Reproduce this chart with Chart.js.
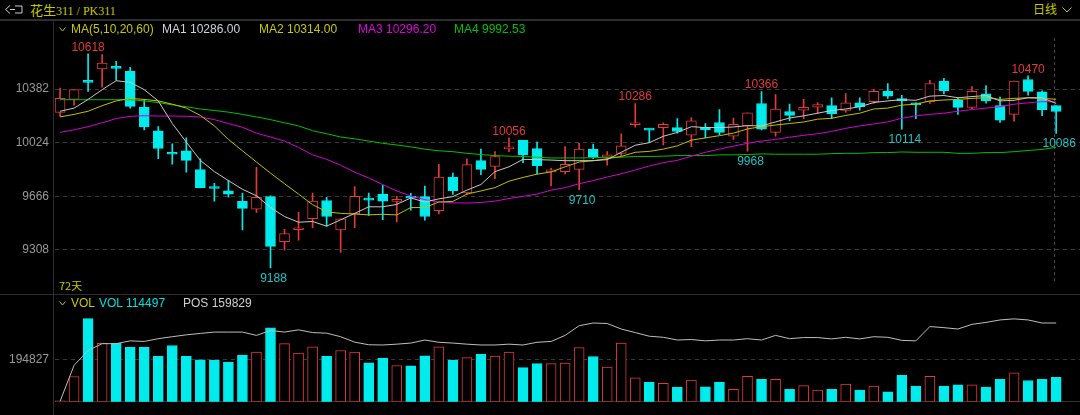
<!DOCTYPE html>
<html lang="zh-CN">
<head>
<meta charset="UTF-8">
<title>花生311 / PK311 日线</title>
<script src="https://cdn.jsdelivr.net/npm/chart.js"></script>
<style>
    html, body { margin: 0; padding: 0; background: #000; }
    #wrap { position: relative; width: 1080px; height: 415px; overflow: hidden; background: #000;
            font-family: "Liberation Sans", Arial, sans-serif; font-size: 12px; }
    .t { position: absolute; white-space: nowrap; line-height: 14px; z-index: 2; }
    .sep { position: absolute; background: #2e2e2e; z-index: 1; }
    canvas { position: absolute; left: 0; }
    svg { position: absolute; z-index: 2; }
</style>
</head>
<body>
<div id="wrap">
    <canvas id="priceChart" width="1080" height="273" style="top:21px"></canvas>
    <canvas id="volChart" width="1080" height="119" style="top:296px"></canvas>

    <div class="sep" style="left:0;top:19px;width:1080px;height:2px"></div>
    <div class="sep" style="left:0;top:294px;width:1080px;height:1px"></div>
    <div class="sep" style="left:53px;top:21px;width:1px;height:394px"></div>

    <!-- header -->
    <svg style="left:5px;top:5px" width="18" height="9"><polyline points="5,0.5 0.5,4.5 5,8.5" stroke="#cfcfcf" fill="none"/><polyline points="5,4.5 10,4.5" stroke="#cfcfcf"/><polyline points="10,1 17,1 17,8 10,8" stroke="#cfcfcf" fill="none"/></svg>
    <div class="t" style="left:30px;top:3px;color:#c8c800;font-size:13px"><span style="font-family:'Noto Sans CJK SC'">花生</span><span style="font-family:'Liberation Serif',serif;font-size:12px">311 / PK311</span></div>
    <div class="t" style="left:1033px;top:2px;color:#c8c800;font-family:'Noto Sans CJK SC';font-size:12px">日线</div>
    <svg style="left:1062px;top:7px" width="10" height="6"><polyline points="0.5,0.5 5,5 9.5,0.5" stroke="#c8c800" fill="none"/></svg>

    <!-- MA legend -->
    <svg style="left:59px;top:27px" width="7" height="5"><polyline points="0.5,0.5 3.5,4 6.5,0.5" stroke="#c8c800" fill="none"/></svg>
    <div class="t" style="left:71px;top:22px;color:#c8c800">MA(5,10,20,60)</div>
    <div class="t" style="left:162px;top:22px;color:#cfd3d8">MA1 10286.00</div>
    <div class="t" style="left:259px;top:22px;color:#c8c800">MA2 10314.00</div>
    <div class="t" style="left:358px;top:22px;color:#e000e0">MA3 10296.20</div>
    <div class="t" style="left:454px;top:22px;color:#00c000">MA4 9992.53</div>
    <div class="t" style="left:59px;top:278px;color:#c8c800;font-family:'Noto Sans CJK SC';font-size:11px">72天</div>

    <!-- VOL legend -->
    <svg style="left:59px;top:301px" width="7" height="5"><polyline points="0.5,0.5 3.5,4 6.5,0.5" stroke="#c8c800" fill="none"/></svg>
    <div class="t" style="left:71px;top:296px;color:#c8c800">VOL</div>
    <div class="t" style="left:99px;top:296px;color:#00e0e0">VOL 114497</div>
    <div class="t" style="left:183px;top:296px;color:#cfcfcf">POS 159829</div>
</div>

<script>
    // daily candles, oldest first
    const opens = [10226, 10313, 10431, 10517, 10524, 10502, 10260, 10104, 9951, 9970,
        9844, 9722, 9702, 9632, 9580, 9664, 9364, 9443, 9516, 9638,
        9441, 9548, 9645, 9681, 9632, 9657, 9664, 9570, 9795, 9688,
        9904, 9866, 9983, 10039, 9985, 9829, 9831, 9846, 9981, 9927,
        9953, 10144, 10112, 10125, 10125, 10075, 10127, 10159, 10067, 10136,
        10286, 10093, 10232, 10242, 10262, 10271, 10239, 10290, 10298, 10369,
        10309, 10290, 10298, 10435, 10307, 10260, 10350, 10271, 10213, 10446, 10363, 10271];
    const highs = [10388, 10378, 10618, 10613, 10567, 10528, 10313, 10131, 10017, 10056,
        9917, 9752, 9773, 9688, 9860, 9670, 9445, 9559, 9688, 9660,
        9516, 9731, 9688, 9741, 9666, 9686, 9735, 9880, 9821, 9917,
        9981, 9964, 10056, 10039, 10028, 9853, 9998, 10020, 10014, 9964,
        10084, 10286, 10114, 10157, 10185, 10191, 10152, 10245, 10189, 10223,
        10366, 10345, 10281, 10313, 10292, 10324, 10352, 10324, 10378, 10419,
        10341, 10290, 10440, 10453, 10324, 10399, 10406, 10329, 10435, 10470, 10371, 10271];
    const lows = [10200, 10275, 10367, 10395, 10442, 10255, 10110, 9917, 9880, 9827,
        9722, 9634, 9660, 9441, 9559, 9188, 9306, 9374, 9456, 9467,
        9291, 9456, 9538, 9510, 9495, 9574, 9506, 9548, 9679, 9677,
        9810, 9784, 9964, 9891, 9816, 9735, 9816, 9710, 9917, 9874,
        9938, 10127, 10024, 10009, 10088, 9998, 10056, 10078, 10046, 9968,
        10110, 10067, 10170, 10185, 10217, 10185, 10228, 10242, 10286, 10320,
        10114, 10185, 10286, 10350, 10213, 10249, 10288, 10159, 10168, 10341, 10204, 10086];
    const closes = [10320, 10378, 10427, 10556, 10520, 10266, 10129, 9985, 9947, 9906,
        9724, 9718, 9681, 9585, 9660, 9332, 9418, 9447, 9634, 9531,
        9516, 9666, 9641, 9634, 9636, 9653, 9531, 9795, 9703, 9878,
        9846, 9932, 9987, 9943, 9870, 9833, 9879, 9981, 9927, 9943,
        10003, 10148, 10108, 10146, 10099, 10170, 10110, 10093, 10146, 10223,
        10114, 10249, 10206, 10260, 10279, 10217, 10290, 10264, 10367, 10335,
        10305, 10277, 10419, 10371, 10260, 10367, 10303, 10174, 10435, 10367, 10245, 10232];

    // moving averages as drawn (MA5, MA10, MA20, MA60)
    const ma5 = [10234, 10255, 10313, 10378, 10438, 10427, 10378, 10303, 10152, 10028,
        9906, 9831, 9771, 9713, 9670, 9591, 9531, 9493, 9498, 9467,
        9509, 9552, 9596, 9596, 9612, 9655, 9628, 9649, 9664, 9707,
        9745, 9831, 9863, 9913, 9911, 9908, 9904, 9904, 9904, 9911,
        9960, 10007, 10024, 10067, 10093, 10131, 10125, 10125, 10129, 10138,
        10136, 10163, 10189, 10203, 10221, 10239, 10249, 10264, 10292, 10303,
        10311, 10307, 10335, 10339, 10324, 10332, 10339, 10303, 10307, 10324, 10324, 10286];
    const ma10 = [10196, 10213, 10234, 10271, 10303, 10320, 10313, 10303, 10281, 10255,
        10206, 10136, 10046, 9970, 9895, 9821, 9750, 9681, 9610, 9563,
        9552, 9548, 9542, 9546, 9542, 9591, 9591, 9628, 9632, 9681,
        9702, 9724, 9767, 9792, 9814, 9829, 9863, 9895, 9904, 9917,
        9932, 9960, 9966, 9981, 10003, 10041, 10056, 10071, 10088, 10116,
        10131, 10142, 10152, 10162, 10181, 10187, 10206, 10221, 10249, 10255,
        10275, 10281, 10303, 10309, 10313, 10320, 10324, 10313, 10320, 10324, 10320, 10314];
    const ma20 = [10093, 10110, 10131, 10157, 10185, 10200, 10204, 10202, 10202, 10200,
        10196, 10178, 10152, 10127, 10088, 10062, 10035, 9992, 9943, 9913,
        9874, 9827, 9789, 9744, 9702, 9668, 9644, 9628, 9623, 9621,
        9625, 9634, 9651, 9666, 9681, 9707, 9724, 9750, 9771, 9795,
        9816, 9842, 9868, 9891, 9906, 9934, 9960, 9981, 10001, 10020,
        10035, 10046, 10061, 10073, 10084, 10099, 10120, 10136, 10149, 10163,
        10187, 10204, 10213, 10221, 10234, 10245, 10255, 10264, 10281, 10290, 10298, 10296];
    const ma60 = [10311, 10311, 10311, 10311, 10311, 10311, 10303, 10292, 10277, 10264,
        10249, 10239, 10228, 10213, 10196, 10178, 10157, 10136, 10104, 10084,
        10062, 10050, 10035, 10020, 10009, 9996, 9981, 9970, 9964, 9953,
        9945, 9938, 9934, 9932, 9927, 9922, 9922, 9922, 9924, 9927,
        9927, 9932, 9932, 9934, 9938, 9938, 9938, 9943, 9943, 9945,
        9949, 9947, 9947, 9947, 9947, 9951, 9953, 9953, 9958, 9958,
        9962, 9960, 9960, 9960, 9953, 9953, 9958, 9958, 9964, 9972, 9979, 9993];

    // volume and open interest
    const volumes = [5000, 118000, 387000, 272000, 272000, 254000, 254000, 212000, 262000, 212000,
        196000, 193000, 185000, 218000, 231000, 344000, 271000, 227000, 256000, 212000,
        239000, 231000, 182000, 204000, 169000, 167000, 214000, 256000, 193000, 206000,
        221000, 213000, 231000, 159000, 178000, 178000, 180000, 253000, 210000, 162000,
        273000, 112000, 91000, 86000, 67000, 101000, 70000, 91000, 58000, 119000,
        105000, 105000, 58000, 75000, 54000, 58000, 83000, 54000, 73000, 47000,
        123000, 73000, 119000, 73000, 79000, 79000, 69000, 105000, 135000, 99000, 105000, 114497];
    const positions = [1000, 74000, 104000, 117900, 117900, 123600, 122400, 128000, 132000, 135800,
        138700, 141400, 141400, 141400, 134700, 144700, 141400, 145900, 140400, 139200,
        132000, 121000, 115700, 115200, 116900, 119100, 125300, 120700, 119100, 116900,
        115200, 115200, 116900, 115200, 120700, 122400, 134700, 154300, 159800, 158800,
        147600, 140400, 133000, 130800, 125300, 126300, 123600, 125300, 125300, 128000,
        125300, 134700, 128000, 130300, 130300, 127500, 130800, 127500, 132000, 130800,
        124600, 123600, 152600, 150400, 147600, 157100, 161000, 166000, 168200, 166000, 159800, 159829];

    // axis ticks and marked highs / lows
    const priceTicks = [9308, 9666, 10024, 10382];
    const volTicks = [194827];
    const markHigh = [2, 32, 41, 50, 69];
    const markLow = [15, 37, 49, 60, 71];

    const UP = '#e23a36';
    const DOWN = '#00ecec';
    const isUp = i => closes[i] >= opens[i];
    const colors = opens.map((o, i) => isUp(i) ? UP : DOWN);
    const fills = opens.map((o, i) => isUp(i) ? '#000' : DOWN);
    const pts = arr => arr.map((v, i) => ({ x: i, y: v }));

    const X_MIN = -0.36, X_MAX = 72.7;
    const font = { family: '"Liberation Sans", Arial, sans-serif', size: 12 };

    const marks = {
        id: 'marks',
        afterDatasetsDraw(chart) {
            const { ctx, scales: { x, y } } = chart;
            ctx.save();
            ctx.font = '12px "Liberation Sans", Arial, sans-serif';
            ctx.textAlign = 'center';
            ctx.textBaseline = 'alphabetic';
            markHigh.forEach(i => {
                ctx.fillStyle = UP;
                ctx.fillText(String(highs[i]), Math.min(x.getPixelForValue(i), 1060), y.getPixelForValue(highs[i]) - 3);
            });
            markLow.forEach(i => {
                ctx.fillStyle = '#1fc4c4';
                ctx.fillText(String(lows[i]), Math.min(x.getPixelForValue(i) + 3, 1060), y.getPixelForValue(lows[i]) + 14);
            });
            ctx.restore();
        }
    };

    const line = (data, color) => ({
        type: 'line', data: pts(data), borderColor: color, borderWidth: 1,
        pointRadius: 0, tension: 0, order: 0
    });

    new Chart(document.getElementById('priceChart'), {
        type: 'bar',
        data: {
            datasets: [
                line(ma5, '#c8c8c8'),
                line(ma10, '#c0c000'),
                line(ma20, '#d400d4'),
                line(ma60, '#00c000'),
                {
                    data: opens.map((o, i) => ({ x: i, y: [o, closes[i]] })),
                    backgroundColor: fills, borderColor: colors, borderWidth: 1,
                    borderSkipped: false, barThickness: 10, minBarLength: 2,
                    grouped: false, order: 1
                },
                {
                    data: lows.map((l, i) => ({ x: i, y: [l, highs[i]] })),
                    backgroundColor: colors, borderWidth: 0,
                    barThickness: 1, grouped: false, order: 2
                }
            ]
        },
        options: {
            responsive: false, animation: false, devicePixelRatio: 1, events: [],
            layout: { padding: { top: 17, bottom: 4, left: 0, right: 0 } },
            plugins: { legend: { display: false }, tooltip: { enabled: false } },
            scales: {
                x: {
                    type: 'linear', min: X_MIN, max: X_MAX, offset: false,
                    ticks: { display: false },
                    grid: { color: '#4a4a4a', drawTicks: false, offset: false, borderDash: [3, 3] },
                    border: { display: false, dash: [3, 3] },
                    afterBuildTicks: s => { s.ticks = [{ value: 70.85 }]; },
                    afterFit: s => { s.height = 0; }
                },
                y: {
                    min: 9102, max: 10723,
                    ticks: { color: '#9a9a9a', font: font, padding: 6, callback: v => String(v) },
                    grid: { color: '#3a3a3a', drawTicks: false, borderDash: [4, 4] },
                    border: { display: false, dash: [4, 4] },
                    afterBuildTicks: s => { s.ticks = priceTicks.map(v => ({ value: v })); },
                    afterFit: s => { s.width = 55; }
                }
            }
        },
        plugins: [marks]
    });

    new Chart(document.getElementById('volChart'), {
        type: 'bar',
        data: {
            datasets: [
                {
                    type: 'line', data: pts(positions), yAxisID: 'p',
                    borderColor: '#bdbdbd', borderWidth: 1, pointRadius: 0, tension: 0, order: 0
                },
                {
                    data: pts(volumes), yAxisID: 'y',
                    backgroundColor: fills, borderColor: colors, borderWidth: 1,
                    borderSkipped: false, barThickness: 10, order: 1
                }
            ]
        },
        options: {
            responsive: false, animation: false, devicePixelRatio: 1, events: [],
            layout: { padding: { top: 4, bottom: 3, left: 0, right: 0 } },
            plugins: { legend: { display: false }, tooltip: { enabled: false } },
            scales: {
                x: {
                    type: 'linear', min: X_MIN, max: X_MAX, offset: false,
                    ticks: { display: false },
                    grid: { display: false, drawTicks: false, offset: false },
                    border: { display: true, color: '#333' },
                    afterFit: s => { s.height = 0; }
                },
                y: {
                    min: 0, max: 431200,
                    ticks: { color: '#9a9a9a', font: font, padding: 6, callback: v => String(v) },
                    grid: { color: '#3a3a3a', drawTicks: false, borderDash: [4, 4] },
                    border: { display: false, dash: [4, 4] },
                    afterBuildTicks: s => { s.ticks = volTicks.map(v => ({ value: v })); },
                    afterFit: s => { s.width = 55; }
                },
                p: { display: false, min: 0, max: 187800 }
            }
        }
    });
</script>
</body>
</html>
